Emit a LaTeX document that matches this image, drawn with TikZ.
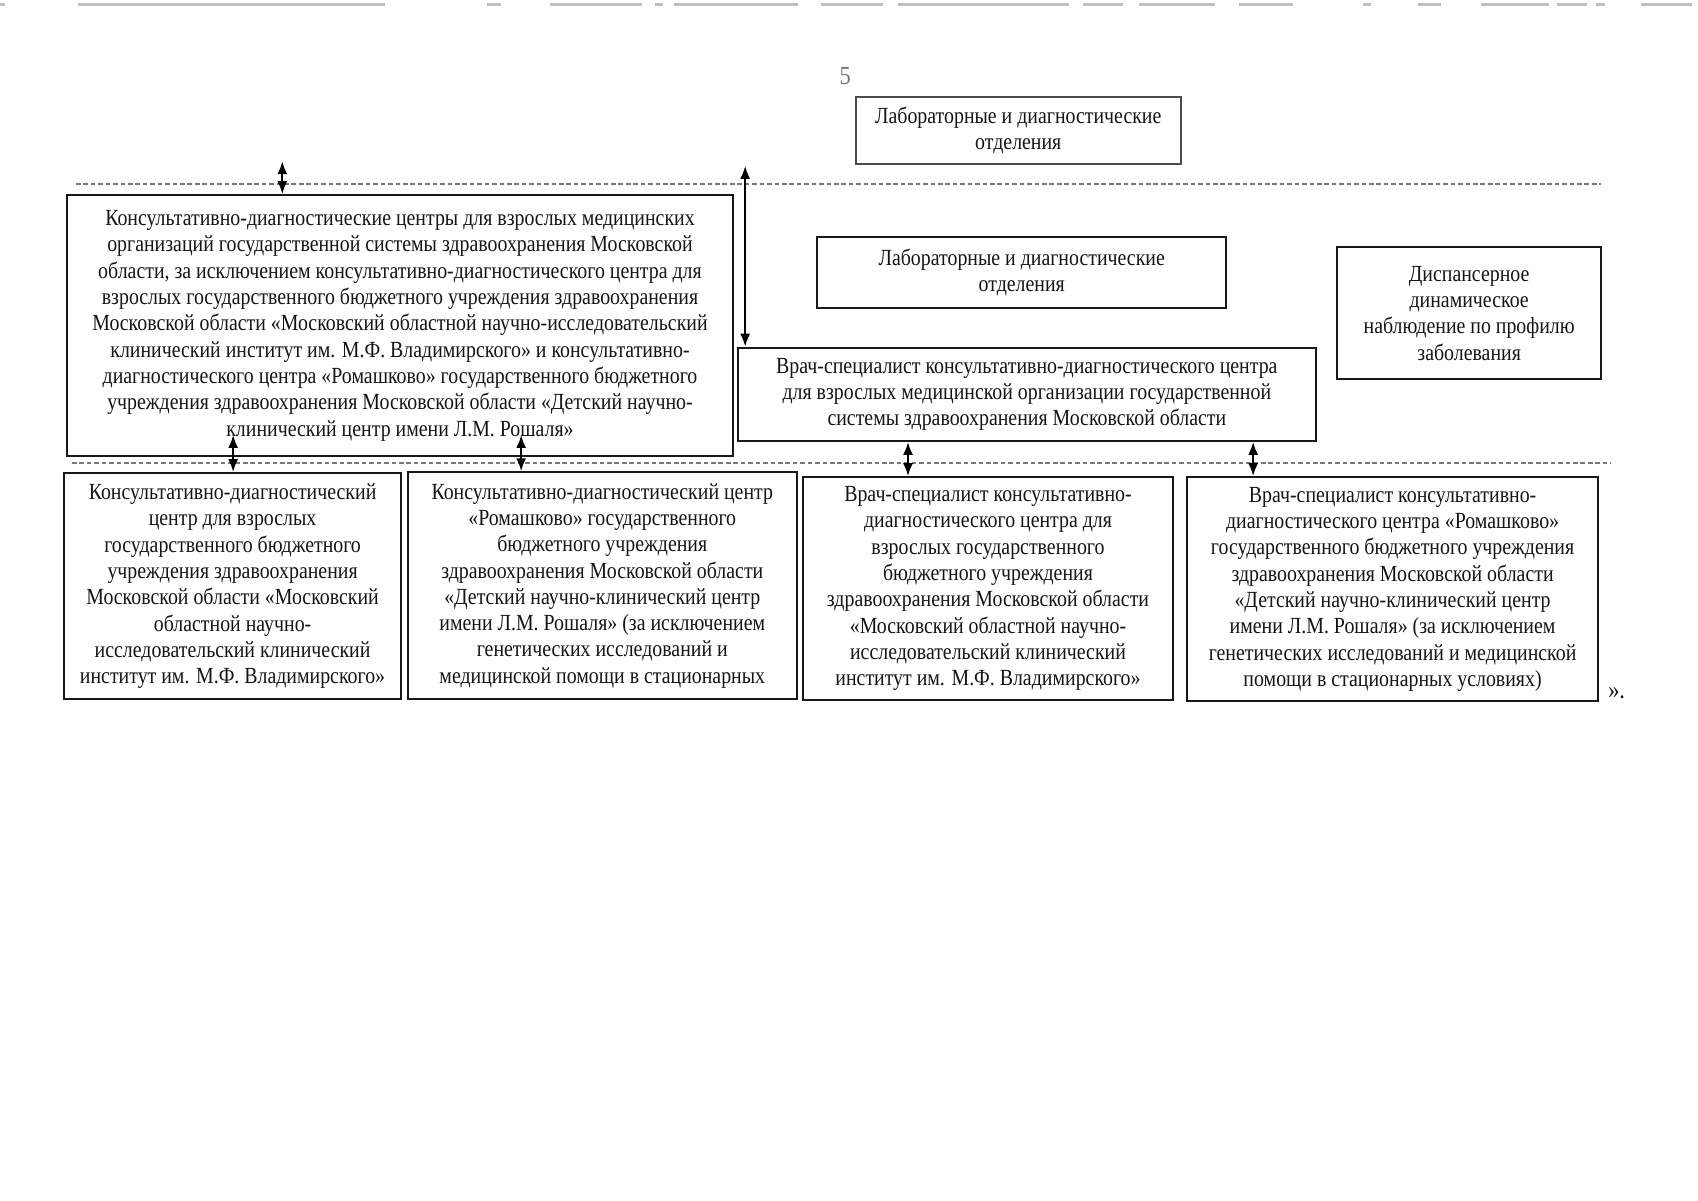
\documentclass[tikz,border=0pt]{standalone}
\usepackage{fontspec}
\setmainfont{Liberation Serif}[FakeStretch=0.86]
\usepackage{tikz}
\usetikzlibrary{positioning, arrows.meta, calc}
\usepackage{xcolor}
\definecolor{ScanTexto}{RGB}{20,20,20}
\definecolor{ScanGris}{RGB}{120,120,120}
\tikzset{%
  blok/.style    ={draw=black!90, line width=0.95pt, align=center,
                   inner sep=2pt, text=ScanTexto},
  razd/.style    ={draw=ScanGris, line width=0.7pt,
                   dash pattern=on 2.3pt off 1.4pt},
  strl/.style    ={{Latex[length=6.5pt,width=5pt]}-{Latex[length=6.5pt,width=5pt]},
                   line width=1.1pt, draw=black},
  skan/.style    ={draw=black!25, line width=1.4pt}
}

\begin{document}
\begin{tikzpicture}[every node/.style={font=\fontsize{11.5}{13.1}\selectfont}]
  \useasboundingbox (0,0) rectangle (29.715,-21.0);
  \foreach \a/\b in {0/0.09,1.37/6.74,8.52/8.77,9.63/11.24,11.46/11.60,11.80/13.97,14.37/15.45,15.72/18.71,18.95/19.65,19.93/21.26,21.68/22.63,23.85/23.99,24.82/25.22,25.92/27.11,27.25/27.77,27.93/28.09,28.72/29.61}{\draw[skan] (\a,-0.08)--(\b,-0.08);}
  \node[text=ScanGris, font=\fontsize{13}{15}\selectfont] (str) at (14.79,-1.33) {5};
  \node[blok, draw=black!70, minimum width=5.69cm, minimum height=1.17cm] (lab1) at (17.82,-2.28)
    {Лабораторные и диагностические\\отделения};
  \draw[razd] (1.33,-3.22)--(28.02,-3.22);
  \node[blok, minimum width=11.66cm, minimum height=4.57cm] (kdc) at (7.00,-5.70)
    {Консультативно-диагностические центры для взрослых медицинских\\
     организаций государственной системы здравоохранения Московской\\
     области, за исключением консультативно-диагностического центра для\\
     взрослых государственного бюджетного учреждения здравоохранения\\
     Московской области «Московский областной научно-исследовательский\\
     клинический институт им. М.Ф. Владимирского» и консультативно-\\
     диагностического центра «Ромашково» государственного бюджетного\\
     учреждения здравоохранения Московской области «Детский научно-\\
     клинический центр имени Л.М. Рошаля»};
  \node[blok, minimum width=7.16cm, minimum height=1.24cm] (lab2) at (17.88,-4.77)
    {Лабораторные и диагностические\\отделения};
  \node[blok, minimum width=4.62cm, minimum height=2.31cm] (disp) at (25.71,-5.48)
    {Диспансерное\\динамическое\\наблюдение по профилю\\заболевания};
  \node[blok, minimum width=10.12cm, minimum height=1.63cm] (vrach) at (17.97,-6.90)
    {Врач-специалист консультативно-диагностического центра\\
     для взрослых медицинской организации государственной\\
     системы здравоохранения Московской области};
  \draw[razd] (1.26,-8.10)--(28.18,-8.10);
  \node[blok, minimum width=5.90cm, minimum height=3.96cm] (b1) at (4.07,-10.26)
    {Консультативно-диагностический\\центр для взрослых\\государственного бюджетного\\
     учреждения здравоохранения\\Московской области «Московский\\областной научно-\\
     исследовательский клинический\\институт им. М.Ф. Владимирского»};
  \node[blok, minimum width=6.81cm, minimum height=3.97cm] (b2) at (10.54,-10.25)
    {Консультативно-диагностический центр\\«Ромашково» государственного\\бюджетного учреждения\\
     здравоохранения Московской области\\«Детский научно-клинический центр\\
     имени Л.М. Рошаля» (за исключением\\генетических исследований и\\
     медицинской помощи в стационарных};
  \node[blok, minimum width=6.48cm, minimum height=3.90cm] (b3) at (17.29,-10.30)
    {Врач-специалист консультативно-\\диагностического центра для\\взрослых государственного\\
     бюджетного учреждения\\здравоохранения Московской области\\«Московский областной научно-\\
     исследовательский клинический\\институт им. М.Ф. Владимирского»};
  \node[blok, minimum width=7.19cm, minimum height=3.92cm] (b4) at (24.37,-10.31)
    {Врач-специалист консультативно-\\диагностического центра «Ромашково»\\
     государственного бюджетного учреждения\\здравоохранения Московской области\\
     «Детский научно-клинический центр\\имени Л.М. Рошаля» (за исключением\\
     генетических исследований и медицинской\\помощи в стационарных условиях)};
  \node[anchor=base west, text=ScanTexto, font=\fontsize{13}{15}\selectfont] (konec) at (28.02,-12.215) {».};
  \coordinate (vverh1) at (4.94,-2.82);
  \coordinate (vverh2) at (13.04,-2.90);
  \draw[strl] (vverh1)--(vverh1 |- kdc.north);
  \draw[strl] (vverh2)--(vverh2 |- vrach.north);
  \draw[strl] (4.08,-7.61)--(4.08,-7.61 |- b1.north);
  \draw[strl] (9.12,-7.61)--(9.12,-7.61 |- b2.north);
  \draw[strl] (15.89,-7.72 |- vrach.south)--(15.89,-7.72 |- b3.north);
  \draw[strl] (21.93,-7.72 |- vrach.south)--(21.93,-7.72 |- b4.north);
\end{tikzpicture}
\end{document}
